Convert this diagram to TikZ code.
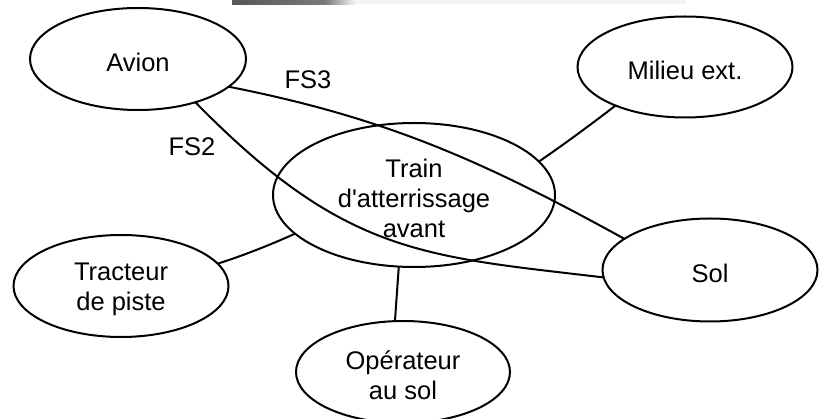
\documentclass[tikz,border=0pt]{standalone}
\usepackage{fontspec}
\setmainfont{Liberation Sans}
\usetikzlibrary{shapes.geometric}
\definecolor{barlight}{HTML}{F3F3F3}
\definecolor{bardark}{HTML}{575757}
\definecolor{barmid}{HTML}{7A7A7A}
\begin{document}
\begin{tikzpicture}[x=1pt,y=-1pt,
  actor/.style={ellipse,draw,line width=2pt,inner sep=0pt,outer sep=0pt},
  txt/.style={align=center,inner sep=0pt,yshift=-3pt,
    font=\fontsize{25.5}{30}\selectfont},
  link/.style={line width=2pt},
  lbl/.style={font=\fontsize{25.5}{30}\selectfont,inner sep=0pt}]
\useasboundingbox (0,0) rectangle (823,419);

% strip along the top edge
\shade[left color=bardark,right color=barmid] (232,0) rectangle (325,4.5);
\shade[left color=barmid,right color=barlight] (325,0) rectangle (355,4.5);
\fill[barlight] (355,0) rectangle (686,4.5);

% components
\node[actor,minimum width=216pt,minimum height=102pt,
  label={[txt,name=avion-t]center:Avion}] (avion) at (138,59) {};
\node[actor,minimum width=215pt,minimum height=101pt,
  label={[txt,name=milieu-t]center:Milieu ext.}] (milieu) at (685,67) {};
\node[actor,minimum width=282pt,minimum height=144pt,
  label={[txt,name=train-t]center:Train\\d\textquotesingle atterrissage\\avant}] (train) at (414,195) {};
\node[actor,minimum width=215pt,minimum height=102pt,
  label={[txt,name=tracteur-t]center:Tracteur\\de piste}] (tracteur) at (121,286) {};
\node[actor,minimum width=214pt,minimum height=102pt,
  label={[txt,name=operateur-t]center:Opérateur\\au sol}] (operateur) at (403,372) {};
\node[actor,minimum width=215pt,minimum height=103pt,
  label={[txt,name=sol-t]center:Sol}] (sol) at (710,270) {};

% functions
\draw[link] (avion.-17) .. controls (387,118) and (483,161) .. (sol.160);
\draw[link] (avion.-37) .. controls (345,255) and (423,256) .. (sol.184);
\draw[link] (milieu.209) .. controls (593,123) and (559,148) .. (train.15);
\draw[link] (tracteur.13) .. controls (242,256) and (270,245) .. (train.198);
\draw[link] (operateur.99) -- (train.258);

\node[lbl] (fs3) at (308,80) {FS3};
\node[lbl] (fs2) at (192,147) {FS2};
\end{tikzpicture}
\end{document}
